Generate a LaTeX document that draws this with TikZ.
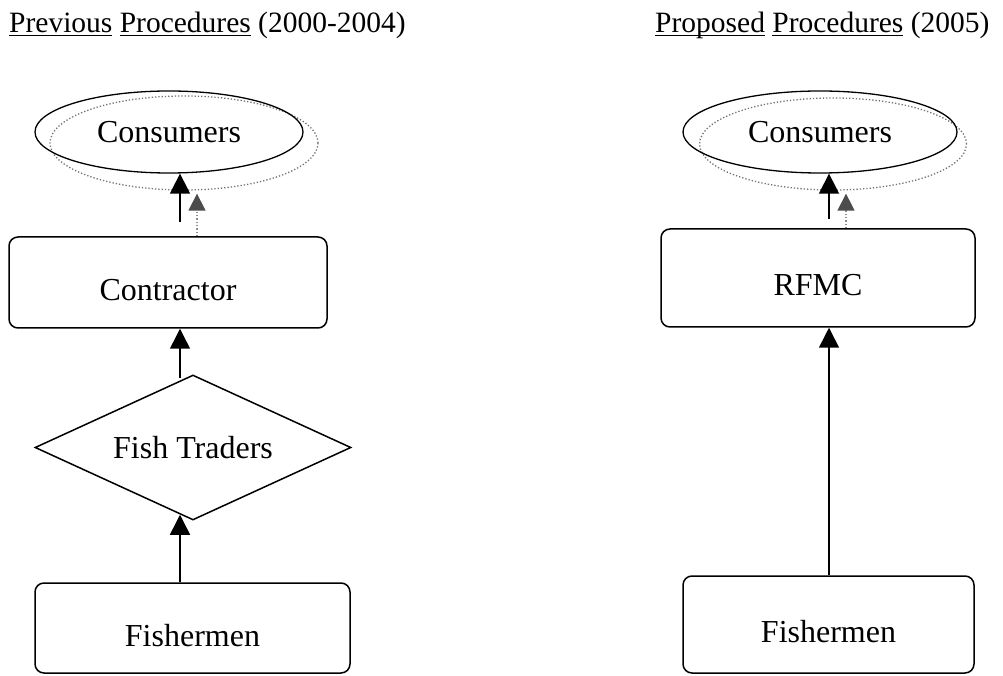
\documentclass[tikz,border=0pt]{standalone}
\usepackage{fontspec}
\setmainfont{Liberation Serif}
\usetikzlibrary{shapes.geometric,arrows.meta}

\newlength\ulwd
\newcommand\headul[1]{\settowidth\ulwd{#1}\rlap{\rule[-3.5pt]{\ulwd}{1.4pt}}#1}

\tikzset{
	heading/.style={anchor=base west, inner sep=0pt, font=\fontsize{29.5}{35}\selectfont},
	entity/.style={draw, line width=1.5pt, rounded corners=9pt, inner sep=0pt,
		text height=36pt, text depth=0pt, font=\fontsize{32}{38}\selectfont},
	market/.style={ellipse, draw, line width=1.3pt, inner sep=0pt, font=\fontsize{32}{38}\selectfont},
	marketshade/.style={ellipse, draw=black!55, dotted, line width=1.3pt, inner sep=0pt},
	trade/.style={diamond, aspect=2.18, draw, line width=1.5pt, inner sep=0pt, font=\fontsize{32}{38}\selectfont},
	flow/.style={line width=1.5pt, -{Triangle[length=20pt,width=20pt]}},
	shadeflow/.style={draw=black!45, dotted, line width=1.3pt, -{Triangle[length=17pt,width=17pt,color=black!70]}}
}

\begin{document}
\begin{tikzpicture}[x=1pt, y=1pt]
				\useasboundingbox (0,0) rectangle (1003,675);

				% Previous procedures
				\node[heading] (prevtitle) at (9,642) {\headul{Previous} \headul{Procedures} (2000-2004)};
				\node[marketshade, minimum width=268pt, minimum height=94pt] (consumersLdot) at (184,532) {};
				\node[market, minimum width=268pt, minimum height=82pt] (consumersL) at (169,543) {Consumers};
				\node[entity, minimum width=318pt, minimum height=91pt] (contractor) at (168,392.5) {Contractor};
				\node[trade, minimum width=316pt, minimum height=145pt] (traders) at (193,227.5) {Fish Traders};
				\node[entity, minimum width=315pt, minimum height=90pt] (fishermenL) at (192.5,47) {Fishermen};

				\draw[flow, shorten <=14pt] ([xshift=12pt]contractor.north) -- ([xshift=12pt]contractor.north |- consumersL.south);
				\draw[shadeflow] ([xshift=29pt]contractor.north) -- ([xshift=29pt,yshift=-3pt]contractor.north |- consumersLdot.south);
				\draw[flow] ([xshift=-13pt,yshift=-4pt]traders.north) -- ([xshift=-13pt]traders.north |- contractor.south);
				\draw[flow] ([xshift=-12.5pt]fishermenL.north) -- ([xshift=-12.5pt,yshift=6pt]fishermenL.north |- traders.south);

				% Proposed procedures
				\node[heading] (proptitle) at (655,642) {\headul{Proposed} \headul{Procedures} (2005)};
				\node[marketshade, minimum width=267pt, minimum height=92pt] (consumersRdot) at (833,531) {};
				\node[market, minimum width=274pt, minimum height=82pt] (consumersR) at (820,543) {Consumers};
				\node[entity, minimum width=314pt, minimum height=98pt] (rfmc) at (818,397) {RFMC};
				\node[entity, minimum width=291pt, minimum height=97pt] (fishermenR) at (828.5,50.5) {Fishermen};

				\draw[flow, shorten <=9pt] ([xshift=11pt]rfmc.north) -- ([xshift=11pt]rfmc.north |- consumersR.south);
				\draw[shadeflow] ([xshift=28pt]rfmc.north) -- ([xshift=28pt,yshift=-3pt]rfmc.north |- consumersRdot.south);
				\draw[flow] ([xshift=0.5pt]fishermenR.north) -- ([xshift=0.5pt]fishermenR.north |- rfmc.south);
			\end{tikzpicture}
\end{document}
